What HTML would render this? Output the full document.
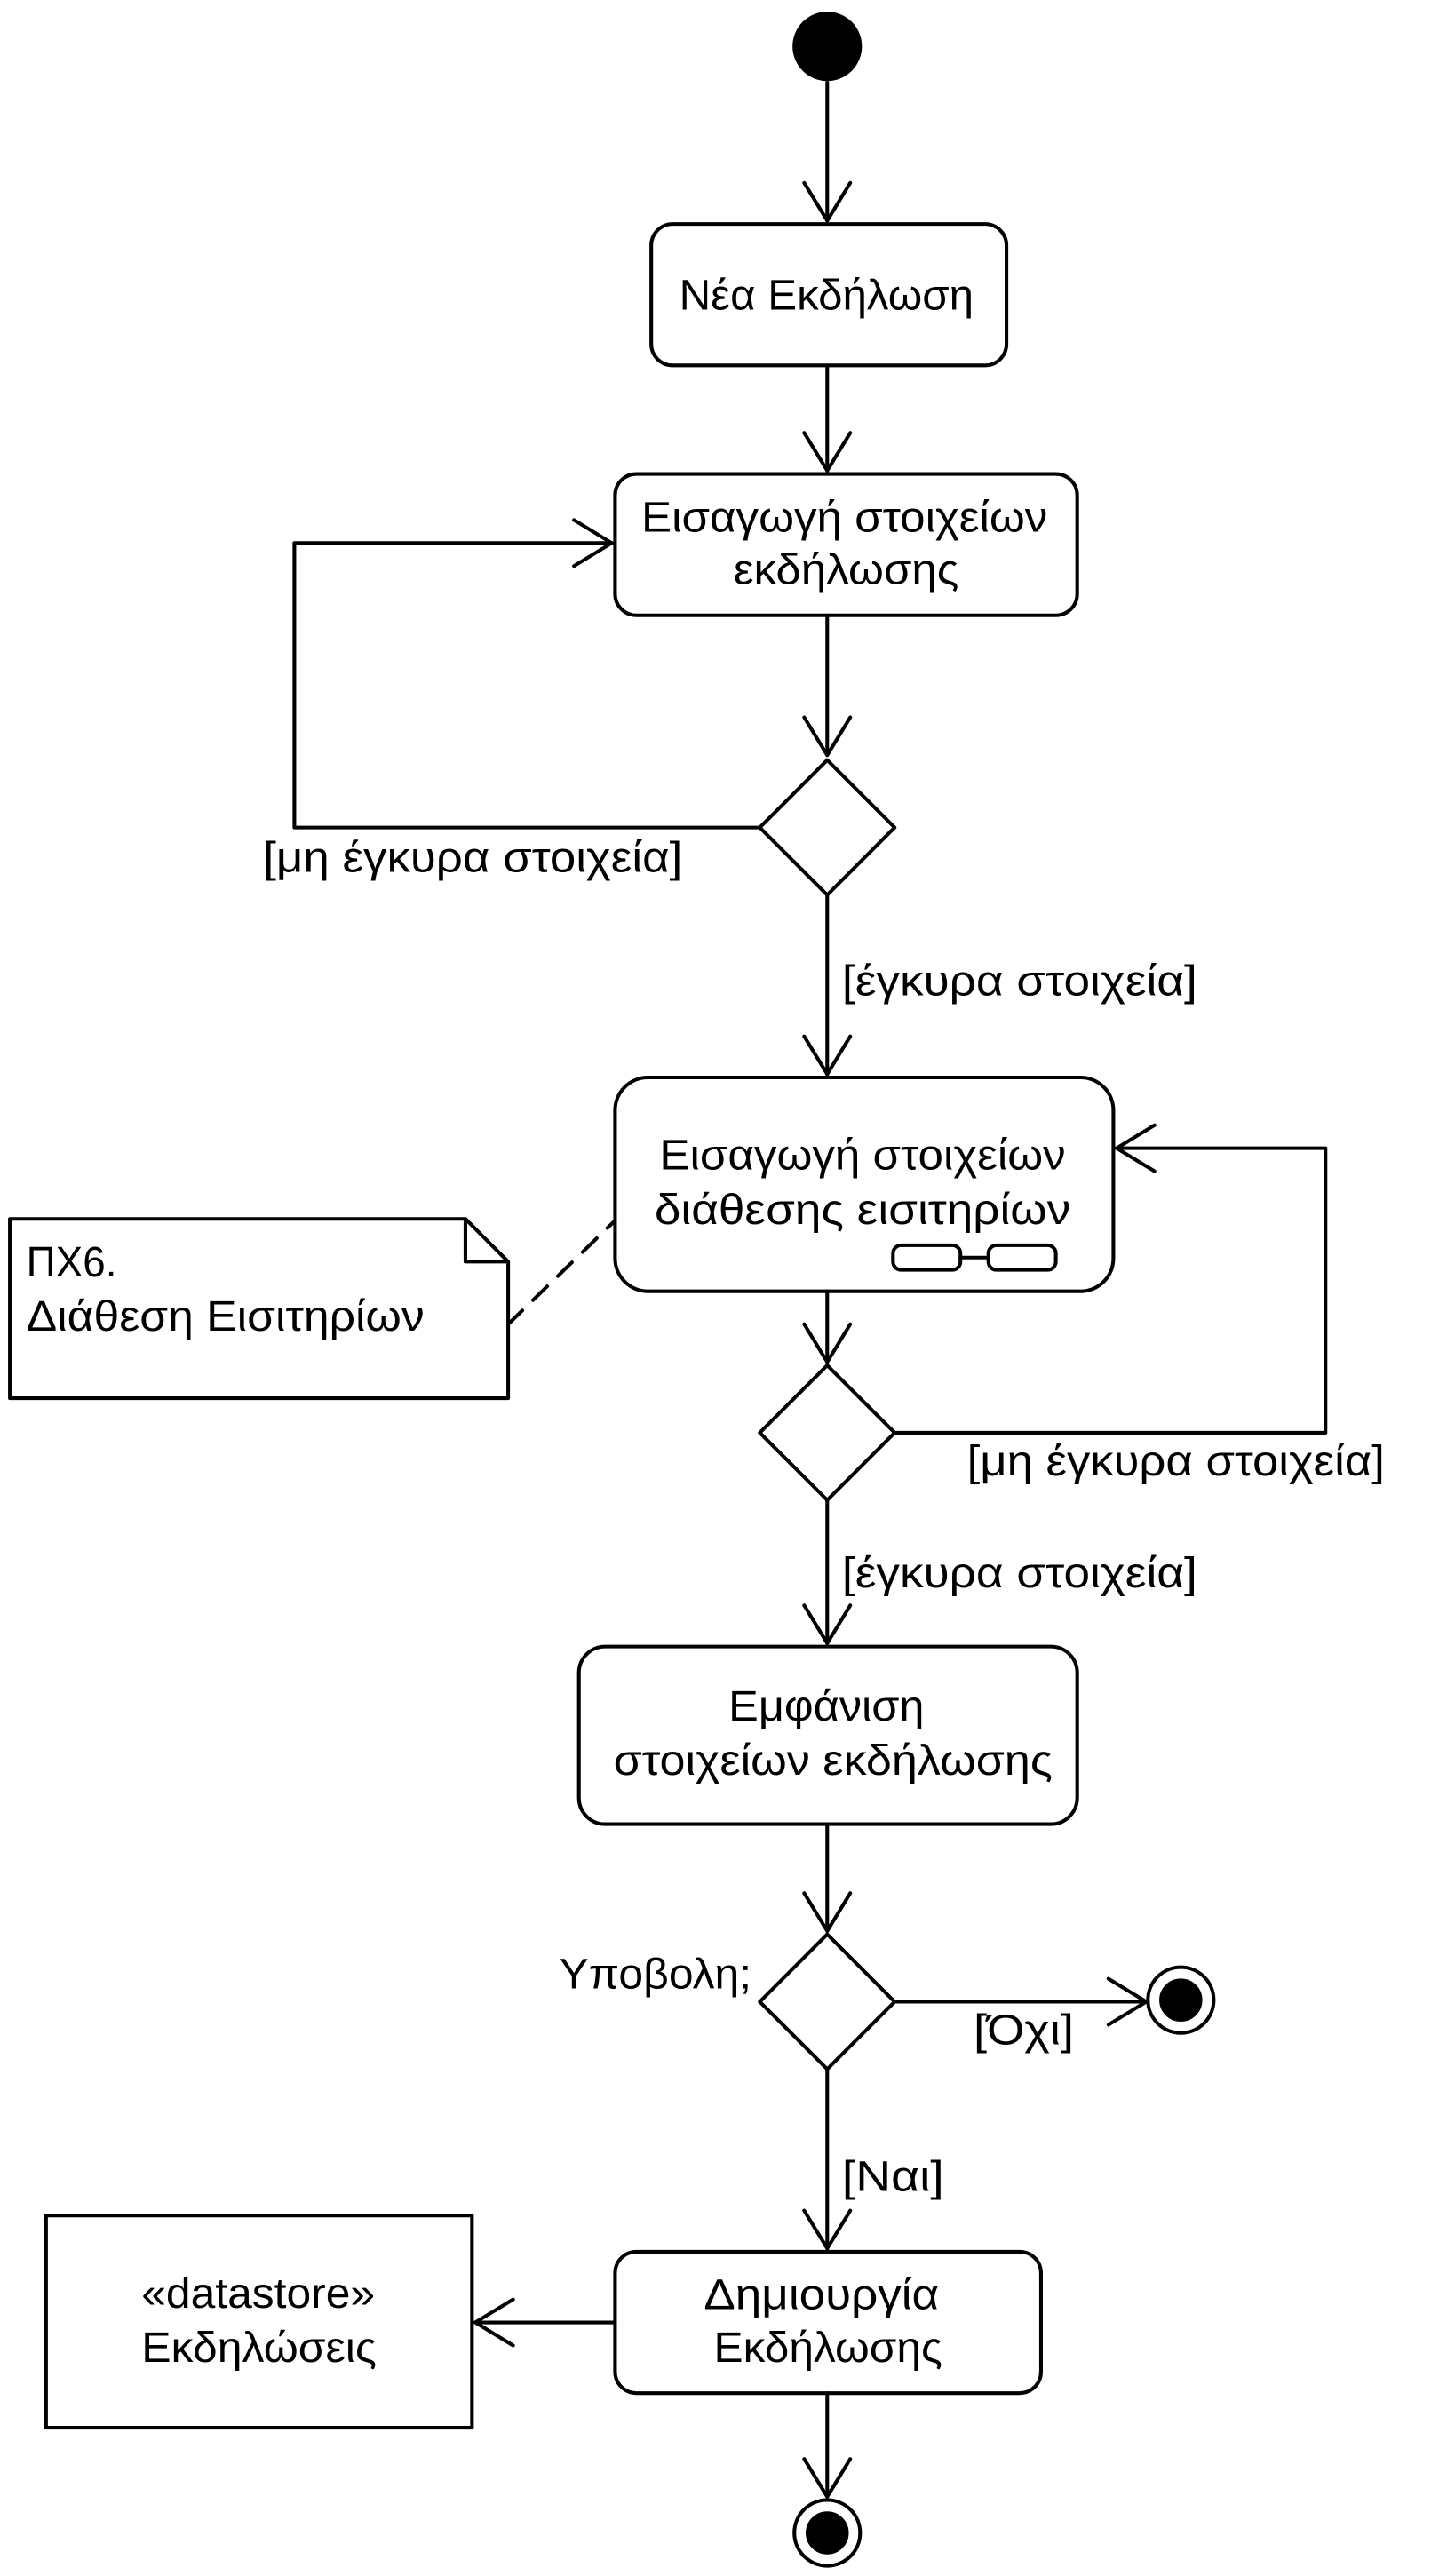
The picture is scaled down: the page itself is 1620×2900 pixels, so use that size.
<!DOCTYPE html>
<html><head><meta charset="utf-8"><style>
html,body{margin:0;padding:0;background:#fff;}
svg{display:block;}
text{font-family:"Liberation Sans","DejaVu Sans",sans-serif;font-size:26px;fill:#000;}
</style></head><body>
<svg width="1620" height="2900" viewBox="0 0 875 1566" xmlns="http://www.w3.org/2000/svg">
<g fill="none" stroke="#000" stroke-width="2.2" stroke-linecap="round" stroke-linejoin="round">
<circle cx="503" cy="28" r="20" fill="#000"/>
<line x1="503" y1="50" x2="503" y2="134"/><polyline points="489,111 503,134 517,111"/>
<rect x="396" y="136" width="216" height="86" rx="13"/>
<line x1="503" y1="222" x2="503" y2="286"/><polyline points="489,263 503,286 517,263"/>
<rect x="374" y="288" width="281" height="86" rx="13"/>
<line x1="503" y1="374" x2="503" y2="459"/><polyline points="489,436 503,459 517,436"/>
<polygon points="503,462 544,503 503,544 462,503"/>
<polyline points="462,503 179,503 179,330 372,330"/><polyline points="349,316 372,330 349,344"/>
<line x1="503" y1="544" x2="503" y2="653"/><polyline points="489,630 503,653 517,630"/>
<rect x="374" y="655" width="303" height="130" rx="20"/>
<rect x="543" y="757" width="41" height="15" rx="5"/><rect x="601" y="757" width="41" height="15" rx="5"/>
<line x1="584" y1="764.5" x2="601" y2="764.5"/>
<polygon points="6,741 283,741 309,767 309,850 6,850"/><polyline points="283,741 283,767 309,767"/>
<line x1="309" y1="805" x2="374" y2="742" stroke-dasharray="12,9"/>
<line x1="503" y1="785" x2="503" y2="828"/><polyline points="489,805 503,828 517,805"/>
<polygon points="503,830 544,871 503,912 462,871"/>
<polyline points="544,871 806,871 806,698 679,698"/><polyline points="702,684 679,698 702,712"/>
<line x1="503" y1="912" x2="503" y2="999"/><polyline points="489,976 503,999 517,976"/>
<rect x="352" y="1001" width="303" height="108" rx="16"/>
<line x1="503" y1="1109" x2="503" y2="1174"/><polyline points="489,1151 503,1174 517,1151"/>
<polygon points="503,1176 544,1217 503,1258 462,1217"/>
<line x1="544" y1="1217" x2="697" y2="1217"/><polyline points="674,1203 697,1217 674,1231"/>
<circle cx="718" cy="1216" r="20"/><circle cx="718" cy="1216" r="12" fill="#000"/>
<line x1="503" y1="1258" x2="503" y2="1367"/><polyline points="489,1344 503,1367 517,1344"/>
<rect x="374" y="1369" width="259" height="86" rx="13"/>
<line x1="374" y1="1412" x2="289" y2="1412"/><polyline points="312,1398 289,1412 312,1426"/>
<rect x="28" y="1347" width="259" height="129"/>
<line x1="503" y1="1455" x2="503" y2="1518"/><polyline points="489,1495 503,1518 517,1495"/>
<circle cx="503" cy="1540" r="20"/><circle cx="503" cy="1540" r="12" fill="#000"/>
</g>
<g lengthAdjust="spacingAndGlyphs">
<text x="413" y="188" textLength="179" lengthAdjust="spacingAndGlyphs">Νέα Εκδήλωση</text>
<text x="390" y="323" textLength="247" lengthAdjust="spacingAndGlyphs">Εισαγωγή στοιχείων</text>
<text x="446" y="355" textLength="137" lengthAdjust="spacingAndGlyphs">εκδήλωσης</text>
<text x="401" y="711" textLength="247" lengthAdjust="spacingAndGlyphs">Εισαγωγή στοιχείων</text>
<text x="398" y="744" textLength="253" lengthAdjust="spacingAndGlyphs">διάθεσης εισιτηρίων</text>
<text x="443" y="1046" textLength="119" lengthAdjust="spacingAndGlyphs">Εμφάνιση</text>
<text x="373" y="1079" textLength="267" lengthAdjust="spacingAndGlyphs">στοιχείων εκδήλωσης</text>
<text x="428" y="1404" textLength="143" lengthAdjust="spacingAndGlyphs">Δημιουργία</text>
<text x="434" y="1436" textLength="139" lengthAdjust="spacingAndGlyphs">Εκδήλωσης</text>
<text x="86" y="1403" textLength="142" lengthAdjust="spacingAndGlyphs">«datastore»</text>
<text x="86" y="1436" textLength="143" lengthAdjust="spacingAndGlyphs">Εκδηλώσεις</text>
<text x="160" y="530" textLength="255" lengthAdjust="spacingAndGlyphs">[μη έγκυρα στοιχεία]</text>
<text x="512" y="605" textLength="216" lengthAdjust="spacingAndGlyphs">[έγκυρα στοιχεία]</text>
<text x="16" y="776" textLength="55" lengthAdjust="spacingAndGlyphs">ΠΧ6.</text>
<text x="16" y="809" textLength="242" lengthAdjust="spacingAndGlyphs">Διάθεση Εισιτηρίων</text>
<text x="588" y="897" textLength="254" lengthAdjust="spacingAndGlyphs">[μη έγκυρα στοιχεία]</text>
<text x="512" y="965" textLength="216" lengthAdjust="spacingAndGlyphs">[έγκυρα στοιχεία]</text>
<text x="340" y="1209" textLength="117" lengthAdjust="spacingAndGlyphs">Υποβολη;</text>
<text x="592" y="1243" textLength="61" lengthAdjust="spacingAndGlyphs">[Όχι]</text>
<text x="512" y="1332" textLength="62" lengthAdjust="spacingAndGlyphs">[Ναι]</text>
</g>
</svg>
</body></html>
